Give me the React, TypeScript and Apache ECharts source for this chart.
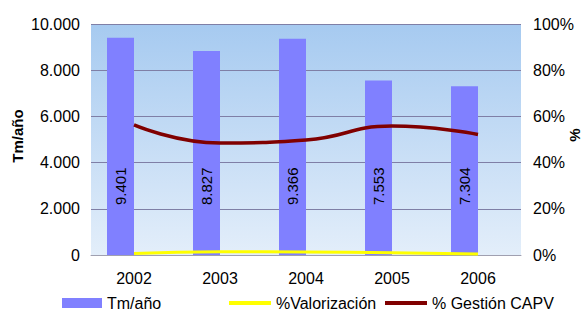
import React, { useEffect, useRef } from "react";
import * as echarts from "echarts";

const categories = ["2002", "2003", "2004", "2005", "2006"];
const tmAnio = [9401, 8827, 9366, 7553, 7304];
const valorizacion = [0.7, 1.4, 1.3, 1.0, 0.4];
const gestionCAPV = [56.3, 48.5, 49.8, 55.8, 52.2];

const FONT = "'Liberation Sans', Arial, sans-serif";

function fmtThousands(v: number): string {
  return String(Math.round(v)).replace(/\B(?=(\d{3})+(?!\d))/g, ".");
}

export default function App() {
  const ref = useRef<HTMLDivElement>(null);
  useEffect(() => {
    if (!ref.current) return;
    const chart = echarts.init(ref.current, null, { renderer: "svg" });
    const legendText = { fontFamily: FONT, fontSize: 16, color: "#000" };
    chart.setOption({
      animation: false,
      textStyle: { fontFamily: FONT },
      grid: {
        left: 91,
        right: 61,
        top: 24,
        bottom: 56,
        containLabel: false,
        outerBoundsMode: "none",
        show: true,
        borderWidth: 0,
        backgroundColor: new echarts.graphic.LinearGradient(0, 0, 0, 1, [
          { offset: 0, color: "#a6caf0" },
          { offset: 1, color: "#e3eefa" },
        ]),
      },
      legend: [
        {
          data: ["Tm/año"],
          left: 62,
          top: 295,
          padding: 0,
          itemWidth: 40,
          itemHeight: 10,
          icon: "rect",
          textStyle: legendText,
          selectedMode: false,
        },
        {
          data: ["%Valorización"],
          left: 229,
          top: 295,
          padding: 0,
          itemWidth: 42,
          itemHeight: 4,
          icon: "rect",
          textStyle: legendText,
          selectedMode: false,
        },
        {
          data: ["% Gestión CAPV"],
          left: 385,
          top: 295,
          padding: 0,
          itemWidth: 42,
          itemHeight: 4,
          icon: "rect",
          textStyle: legendText,
          selectedMode: false,
        },
      ],
      xAxis: {
        type: "category",
        data: categories,
        axisLine: { lineStyle: { color: "#a0a0b0", width: 1 } },
        axisTick: { show: false },
        axisLabel: { color: "#000", fontSize: 16, margin: 15, fontFamily: FONT },
      },
      yAxis: [
        {
          type: "value",
          min: 0,
          max: 10000,
          interval: 2000,
          name: "Tm/año",
          nameLocation: "middle",
          nameRotate: 90,
          nameGap: 66,
          nameMoveOverlap: false,
          nameTextStyle: {
            fontFamily: FONT,
            fontSize: 15,
            fontWeight: "bold",
            color: "#000",
            padding: [0, 0, 0, 7],
          },
          axisLine: { show: false },
          axisTick: { show: false },
          axisLabel: {
            color: "#000",
            fontSize: 16,
            margin: 11,
            fontFamily: FONT,
            formatter: (v: number) => fmtThousands(v),
          },
          splitLine: { lineStyle: { color: "#7f7fa6", width: 1 } },
        },
        {
          type: "value",
          min: 0,
          max: 100,
          interval: 20,
          name: "%",
          nameLocation: "middle",
          nameRotate: 90,
          nameGap: 46,
          nameMoveOverlap: false,
          nameTextStyle: {
            fontFamily: FONT,
            fontSize: 15,
            fontWeight: "bold",
            color: "#000",
            padding: [0, 0, 0, 9],
          },
          axisLine: { show: false },
          axisTick: { show: false },
          axisLabel: {
            color: "#000",
            fontSize: 16,
            margin: 12,
            fontFamily: FONT,
            formatter: "{value}%",
          },
          splitLine: { show: false },
        },
      ],
      series: [
        {
          name: "Tm/año",
          type: "bar",
          data: tmAnio,
          barWidth: 27,
          barGap: "0%",
          itemStyle: { color: "#8080ff" },
          label: {
            show: true,
            position: "insideBottom",
            distance: 50,
            rotate: 90,
            align: "left",
            verticalAlign: "middle",
            color: "#000",
            fontSize: 15,
            fontFamily: FONT,
            formatter: (p: any) => fmtThousands(p.value),
          },
        },
        {
          name: "dummy",
          type: "bar",
          data: categories.map(() => "-"),
          barWidth: 27,
          barGap: "0%",
        },
        {
          name: "%Valorización",
          type: "line",
          yAxisIndex: 1,
          data: valorizacion,
          smooth: true,
          showSymbol: false,
          symbol: "none",
          itemStyle: { color: "#ffff00" },
          lineStyle: { color: "#ffff00", width: 3 },
          z: 3,
        },
        {
          name: "% Gestión CAPV",
          type: "line",
          yAxisIndex: 1,
          data: gestionCAPV,
          smooth: true,
          showSymbol: false,
          symbol: "none",
          itemStyle: { color: "#800000" },
          lineStyle: { color: "#800000", width: 3.5 },
          z: 4,
        },
      ],
    });
    return () => chart.dispose();
  }, []);
  return (
    <div
      ref={ref}
      style={{ position: "fixed", left: 0, top: 0, width: 582, height: 311, background: "#fff" }}
    />
  );
}
